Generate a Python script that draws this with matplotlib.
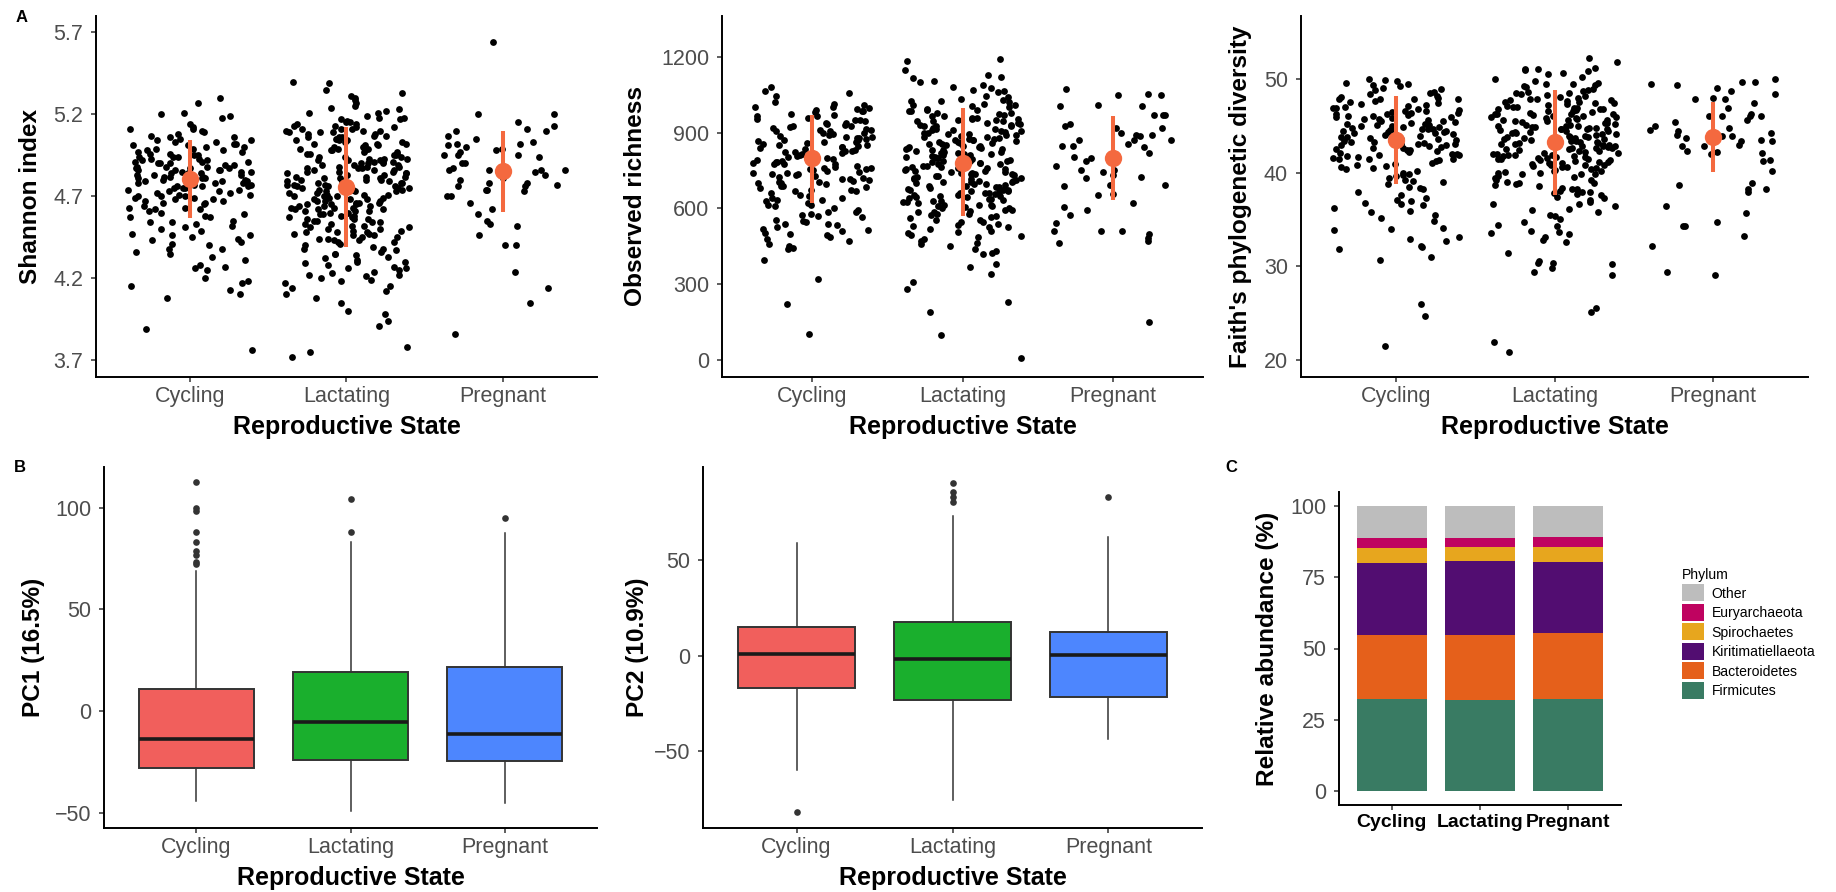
import numpy as np
import matplotlib
matplotlib.use("Agg")
import matplotlib.pyplot as plt
from matplotlib.patches import Patch

plt.rcParams['font.family'] = ['Liberation Sans', 'DejaVu Sans']

# ---------------- data ----------------
states = ["Cycling", "Lactating", "Pregnant"]

# Shannon index per sample
shannon_cyc = [5.30, 5.27, 5.21, 5.20, 5.19, 5.18, 5.14, 5.12, 5.11, 5.11, 5.10, 5.09, 5.08, 5.06, 5.06, 5.05,
               5.04, 5.04, 5.03, 5.02, 5.02, 5.01, 5.00, 5.00, 4.99, 4.98, 4.98, 4.97, 4.96, 4.96, 4.95, 4.94,
               4.94, 4.93, 4.92, 4.92, 4.91, 4.90, 4.90, 4.89, 4.89, 4.88, 4.88, 4.87, 4.87, 4.86, 4.86, 4.85,
               4.85, 4.85, 4.84, 4.84, 4.83, 4.83, 4.83, 4.82, 4.82, 4.81, 4.81, 4.80, 4.80, 4.80, 4.79, 4.79,
               4.78, 4.78, 4.77, 4.77, 4.76, 4.76, 4.75, 4.75, 4.74, 4.73, 4.73, 4.72, 4.72, 4.71, 4.70, 4.70,
               4.69, 4.68, 4.68, 4.67, 4.66, 4.65, 4.64, 4.63, 4.62, 4.61, 4.60, 4.59, 4.58, 4.57, 4.55, 4.54,
               4.52, 4.51, 4.50, 4.49, 4.47, 4.46, 4.44, 4.43, 4.42, 4.40, 4.38, 4.36, 4.33, 4.31, 4.28, 4.26,
               4.25, 4.20, 4.18, 4.17, 4.15, 4.13, 4.10, 4.08, 3.89, 3.76, 4.91, 4.86, 4.82, 4.79, 4.84, 4.88,
               4.93, 4.97, 5.03, 4.74, 4.71, 4.66, 4.63, 4.57, 4.53, 4.45, 4.41, 4.35, 4.87, 4.81, 4.76, 4.69,
               4.83, 4.95, 5.01, 4.90, 4.94, 4.86, 4.78, 4.70, 4.62, 4.54, 4.46, 4.38, 5.07, 4.99, 4.91, 4.83,
               4.75, 4.67, 4.27]
shannon_lac = [5.40, 5.39, 5.35, 5.33, 5.31, 5.30, 5.29, 5.27, 5.25, 5.24, 5.23, 5.22, 5.21, 5.21, 5.19, 5.18,
               5.17, 5.17, 5.16, 5.15, 5.15, 5.14, 5.13, 5.13, 5.12, 5.12, 5.11, 5.11, 5.10, 5.10, 5.10, 5.09,
               5.09, 5.08, 5.08, 5.07, 5.07, 5.06, 5.06, 5.05, 5.05, 5.04, 5.04, 5.03, 5.03, 5.02, 5.02, 5.01,
               5.01, 5.00, 5.00, 4.99, 4.99, 4.98, 4.98, 4.97, 4.97, 4.96, 4.96, 4.95, 4.95, 4.94, 4.94, 4.93,
               4.93, 4.92, 4.92, 4.91, 4.91, 4.90, 4.90, 4.90, 4.89, 4.89, 4.88, 4.88, 4.87, 4.87, 4.86, 4.86,
               4.85, 4.85, 4.84, 4.84, 4.83, 4.83, 4.82, 4.82, 4.81, 4.81, 4.80, 4.80, 4.80, 4.85, 4.87, 4.79,
               4.79, 4.78, 4.78, 4.77, 4.77, 4.76, 4.76, 4.75, 4.75, 4.74, 4.74, 4.73, 4.73, 4.72, 4.72, 4.71,
               4.71, 4.70, 4.70, 4.75, 4.77, 4.69, 4.69, 4.68, 4.68, 4.67, 4.67, 4.66, 4.66, 4.65, 4.65, 4.64,
               4.64, 4.63, 4.63, 4.62, 4.62, 4.61, 4.61, 4.60, 4.60, 4.65, 4.62, 4.59, 4.58, 4.58, 4.57, 4.56,
               4.56, 4.55, 4.54, 4.54, 4.53, 4.52, 4.52, 4.51, 4.50, 4.50, 4.49, 4.48, 4.48, 4.47, 4.46, 4.46,
               4.45, 4.44, 4.44, 4.43, 4.42, 4.42, 4.41, 4.40, 4.39, 4.38, 4.37, 4.36, 4.35, 4.34, 4.33, 4.32,
               4.31, 4.30, 4.29, 4.28, 4.27, 4.26, 4.25, 4.24, 4.23, 4.22, 4.21, 4.20, 4.19, 4.17, 4.15, 4.14,
               4.12, 4.10, 4.08, 4.05, 4.00, 3.98, 3.94, 3.91, 3.78, 3.75, 3.72, 4.96, 4.88, 4.79, 4.71, 4.63,
               4.55, 4.47, 5.06, 5.14, 4.93, 4.84, 4.76, 4.68, 4.59, 4.51, 4.43, 4.35, 5.02, 4.98, 4.91, 4.82,
               4.73, 4.66, 4.57, 4.49, 4.30, 4.22, 5.09, 5.18, 4.94, 4.86, 4.78, 4.70, 4.61, 4.53, 4.45, 4.38,
               5.04, 4.99, 4.89, 4.81, 4.74, 4.64, 4.56, 4.48, 4.26, 4.18, 5.11, 4.92, 4.67]
shannon_preg = [5.64, 5.20, 5.20, 5.15, 5.13, 5.11, 5.10, 5.10, 5.07, 5.05, 5.03, 5.02, 5.02, 5.01, 5.00, 4.99,
                4.98, 4.97, 4.95, 4.95, 4.95, 4.94, 4.90, 4.90, 4.87, 4.86, 4.86, 4.86, 4.86, 4.85, 4.83, 4.81,
                4.80, 4.78, 4.78, 4.77, 4.76, 4.76, 4.74, 4.74, 4.73, 4.70, 4.70, 4.66, 4.62, 4.59, 4.55, 4.53,
                4.52, 4.46, 4.40, 4.40, 4.24, 4.14, 4.05, 3.86]

# Observed richness per sample
richness_cyc = [1080, 1065, 1058, 1045, 1020, 1012, 1008, 1003, 998, 993, 990, 985, 982, 975, 970, 966, 960, 955,
                950, 945, 940, 938, 935, 930, 926, 922, 918, 915, 910, 905, 900, 898, 894, 890, 886, 882, 878, 875,
                870, 866, 862, 858, 855, 850, 846, 842, 838, 835, 830, 826, 822, 818, 815, 810, 806, 802, 800, 797,
                793, 790, 786, 782, 778, 775, 770, 766, 762, 758, 755, 750, 746, 742, 738, 735, 730, 726, 722, 718,
                714, 710, 705, 700, 696, 690, 685, 680, 675, 668, 662, 655, 648, 640, 634, 628, 620, 615, 608, 600,
                595, 588, 580, 572, 565, 556, 548, 540, 535, 528, 520, 510, 502, 496, 488, 480, 470, 460, 452, 445,
                440, 395, 320, 220, 105, 925, 880, 845, 808, 776, 742, 705, 668, 632, 965, 905, 862, 828, 785, 752,
                718, 690, 612, 575, 540, 500, 1000, 870, 985, 952, 912, 884, 852, 822, 792, 762, 732, 702, 672, 642,
                585, 552, 515]
richness_lac = [1190, 1185, 1150, 1120, 1115, 1105, 1100, 1090, 1080, 1078, 1065, 1045, 1040, 1035, 1030, 1025,
                1020, 1015, 1010, 1005, 1000, 995, 990, 988, 985, 980, 975, 972, 968, 965, 960, 955, 952, 948, 945,
                940, 936, 932, 928, 925, 920, 916, 912, 908, 905, 900, 896, 892, 888, 885, 880, 876, 872, 868, 865,
                860, 856, 852, 848, 845, 840, 836, 832, 828, 825, 820, 816, 812, 808, 805, 800, 796, 792, 788, 785,
                780, 776, 772, 768, 765, 760, 756, 752, 748, 745, 740, 736, 732, 728, 725, 720, 716, 712, 708, 705,
                700, 696, 692, 688, 685, 680, 676, 672, 668, 665, 660, 656, 652, 648, 645, 640, 636, 632, 628, 625,
                620, 615, 610, 605, 600, 595, 590, 585, 580, 575, 570, 562, 555, 548, 540, 532, 525, 518, 510, 502,
                495, 488, 480, 472, 462, 450, 440, 430, 425, 420, 380, 370, 340, 310, 280, 230, 190, 100, 10, 960,
                930, 900, 870, 840, 810, 780, 750, 720, 690, 660, 630, 980, 940, 890, 860, 830, 790, 770, 735, 710,
                675, 650, 615, 1060, 1010, 950, 910, 875, 842, 815, 798, 762, 742, 703, 662, 600, 955, 925, 895,
                865, 835, 805, 775, 745, 715, 685, 655, 625, 595, 565, 535, 505, 985, 915, 885, 855, 825, 795, 765,
                735, 705, 675, 645, 615, 585, 555, 525, 1025, 945, 902, 872, 846, 818, 788, 758, 728, 698, 668, 638,
                608, 578, 548, 490, 460, 1070, 1130]
richness_preg = [1075, 1051, 1048, 1055, 1011, 1005, 1005, 972, 969, 936, 969, 926, 917, 917, 899, 890, 890, 886,
                 870, 870, 870, 848, 848, 857, 844, 818, 804, 800, 787, 769, 754, 754, 745, 732, 725, 719, 692, 690,
                 695, 655, 657, 622, 607, 596, 574, 541, 512, 510, 510, 501, 485, 472, 462, 152]

# Faith's phylogenetic diversity per sample
faith_cyc = [50.0, 49.9, 49.8, 49.6, 49.5, 49.3, 49.2, 49.0, 48.8, 48.5, 48.4, 48.2, 48.0, 47.9, 47.8, 47.6, 47.5,
             47.3, 47.2, 47.0, 46.9, 46.8, 46.6, 46.5, 46.4, 46.3, 46.1, 46.0, 45.9, 45.8, 45.7, 45.6, 45.5, 45.4,
             45.3, 45.2, 45.1, 45.0, 44.9, 44.8, 44.7, 44.6, 44.5, 44.4, 44.3, 44.2, 44.1, 44.0, 43.9, 43.8, 43.7,
             43.6, 43.5, 43.4, 43.3, 43.2, 43.1, 43.0, 42.9, 42.8, 42.7, 42.6, 42.5, 42.4, 42.3, 42.2, 42.1, 42.0,
             41.9, 41.8, 41.6, 41.5, 41.3, 41.2, 41.0, 40.9, 40.7, 40.5, 40.4, 40.2, 40.0, 39.8, 39.6, 39.4, 39.2,
             39.0, 38.8, 38.5, 38.2, 37.9, 37.6, 37.3, 37.0, 36.8, 36.5, 36.2, 35.9, 35.5, 35.2, 34.8, 34.1, 33.9,
             33.1, 32.9, 32.7, 32.2, 32.1, 31.8, 31.0, 30.7, 26.0, 24.7, 21.5, 47.4, 46.7, 46.2, 45.7, 45.2, 44.6,
             44.0, 43.6, 43.2, 42.6, 42.0, 41.4, 40.8, 47.9, 46.4, 45.5, 44.3, 43.0, 41.7, 48.1, 47.1, 45.9, 44.9,
             43.8, 42.9, 46.6, 45.0, 48.6, 44.4, 41.9, 39.1, 36.7, 34.0, 47.8, 46.9, 46.0, 45.1, 44.2, 43.3, 42.4,
             41.5, 40.6, 39.7, 38.4, 37.1, 35.8, 48.9, 44.7]
faith_lac = [52.2, 51.8, 51.2, 51.0, 50.9, 50.8, 50.5, 50.2, 50.0, 49.8, 49.6, 49.5, 49.3, 49.1, 48.9, 48.8, 48.7,
             48.5, 48.3, 48.2, 48.0, 47.9, 47.8, 47.6, 47.5, 47.4, 47.2, 47.1, 47.0, 46.9, 46.8, 46.7, 46.5, 46.4,
             46.3, 46.2, 46.0, 45.9, 45.8, 45.7, 45.6, 45.5, 45.4, 45.3, 45.2, 45.1, 45.0, 44.9, 44.8, 44.7, 44.6,
             44.5, 44.4, 44.3, 44.2, 44.1, 44.0, 43.9, 43.8, 43.7, 43.6, 43.5, 43.4, 43.3, 43.2, 43.1, 43.0, 42.9,
             42.8, 42.7, 42.6, 42.5, 42.4, 42.3, 42.2, 42.1, 42.0, 41.9, 41.8, 41.7, 41.6, 41.5, 41.4, 41.3, 41.2,
             41.1, 41.0, 40.9, 40.8, 40.7, 40.6, 40.5, 40.4, 40.3, 40.2, 40.1, 40.0, 39.8, 39.6, 39.4, 39.2, 39.0,
             38.8, 38.6, 38.4, 38.2, 38.0, 37.8, 37.6, 37.4, 37.1, 36.9, 36.6, 36.4, 36.1, 35.8, 35.5, 35.1, 34.7,
             34.3, 33.8, 33.6, 33.5, 33.1, 32.8, 32.6, 31.4, 30.6, 30.4, 30.3, 29.8, 29.4, 29.1, 25.6, 25.1, 21.9,
             20.9, 48.4, 47.7, 47.3, 46.6, 46.1, 45.6, 45.1, 44.6, 44.1, 43.6, 43.1, 42.6, 42.1, 41.6, 41.1, 40.6,
             48.6, 47.5, 46.8, 46.3, 45.8, 45.3, 44.8, 44.3, 43.8, 43.3, 42.8, 42.3, 41.8, 41.3, 40.8, 49.4, 46.9,
             45.9, 44.9, 43.9, 42.9, 41.9, 39.9, 38.9, 37.9, 47.4, 46.8, 46.2, 45.6, 45.0, 44.4, 43.8, 43.2, 42.6,
             42.0, 41.4, 40.8, 40.2, 39.5, 38.7, 37.9, 48.1, 47.0, 46.0, 45.0, 44.2, 43.4, 42.5, 41.7, 40.9, 39.9,
             38.9, 37.7, 36.6, 35.4, 34.4, 49.2, 48.5, 47.7, 46.6, 45.5, 44.6, 43.7, 42.8, 41.9, 41.0, 40.0, 39.2,
             38.3, 37.3, 36.0, 50.6, 51.0, 33.7, 30.4]
faith_preg = [49.5, 49.3, 49.7, 49.7, 50.0, 49.0, 48.7, 48.4, 47.9, 48.0, 47.8, 47.4, 46.9, 46.3, 46.0, 46.0, 46.0,
              45.6, 46.0, 45.4, 44.8, 44.5, 45.0, 44.4, 44.2, 44.0, 43.9, 43.7, 43.9, 43.7, 43.5, 43.4, 43.4, 42.9,
              42.8, 42.8, 42.1, 42.2, 42.3, 42.0, 41.3, 41.2, 40.2, 38.9, 38.2, 38.3, 38.7, 37.9, 36.4, 35.7, 34.3,
              34.7, 34.3, 33.2, 32.2, 29.4, 29.1]

# mean +/- sd summaries (orange point ranges)
shannon_mean = [4.807, 4.756, 4.851]
shannon_lo = [4.569, 4.390, 4.604]
shannon_hi = [5.044, 5.121, 5.095]
richness_mean = [798, 782, 800]
richness_lo = [622, 570, 633]
richness_hi = [969, 996, 967]
faith_mean = [43.5, 43.3, 43.8]
faith_lo = [38.75, 37.6, 40.1]
faith_hi = [48.2, 48.8, 47.5]

# PCA box plot summaries
pc1_q1 = [-27.9, -23.8, -24.3]
pc1_med = [-13.9, -5.4, -11.3]
pc1_q3 = [11.1, 19.3, 21.8]
pc1_lo = [-44.3, -48.9, -45.1]
pc1_hi = [68.9, 83.3, 87.7]
pc1_out = [[112.6, 100.0, 98.4, 88.0, 83.3, 78.7, 77.0, 73.4, 72.5], [104.1, 88.0], [94.8]]

pc2_q1 = [-17.1, -23.2, -21.5]
pc2_med = [0.9, -1.7, 0.2]
pc2_q3 = [14.8, 17.5, 12.2]
pc2_lo = [-59.9, -75.4, -43.6]
pc2_hi = [59.0, 72.8, 62.3]
pc2_out = [[-81.7], [90.2, 85.5, 82.9, 80.3], [83.2]]

# relative abundance (%) by phylum, stacked bottom-up
phyla = ["Firmicutes", "Bacteroidetes", "Kiritimatiellaeota", "Spirochaetes", "Euryarchaeota", "Other"]
firmicutes = [32.2, 31.8, 32.2]
bacteroidetes = [22.7, 23.1, 23.4]
kiritimatiellaeota = [25.1, 25.8, 24.75]
spirochaetes = [5.4, 4.9, 5.35]
euryarchaeota = [3.3, 3.1, 3.3]
other = [11.3, 11.3, 11.0]

# ---------------- styling ----------------
W, H = 1836, 892
orange = '#F4693F'
box_cols = ['#F15F5C', '#1AAF2D', '#4D86FE']
phylum_cols = ['#397B63', '#E5601B', '#520D71', '#E7A61E', '#BF0360', '#BDBDBD']
TICK = 15.5
XLAB = 18
YLAB = 17.6

fig = plt.figure(figsize=(W / 100, H / 100), dpi=100)


def add_ax(l, r, t, b):
    return fig.add_axes([l / W, 1 - b / H, (r - l) / W, (b - t) / H])


def style(ax):
    for s in ['top', 'right']:
        ax.spines[s].set_visible(False)
    for s in ['left', 'bottom']:
        ax.spines[s].set_linewidth(1.4)
        ax.spines[s].set_color('black')
    ax.tick_params(length=3.8, width=1.1, color='#333333', labelcolor='#4D4D4D', labelsize=TICK)
    ax.tick_params(axis='x', pad=2.5)
    ax.tick_params(axis='y', pad=5.5)


def jitter(n, seed):
    # deterministic horizontal spread for the dots (+/- 0.4 of a category)
    k = np.arange(n) + 1.0
    u = np.sin(k * 12.9898 + seed * 78.233) * 43758.5453
    return (u - np.floor(u)) * 0.8 - 0.4


def labels(ax, ylab, ylab_x):
    ax.set_xlabel("Reproductive State", fontsize=XLAB, fontweight='bold', va='center')
    ax.xaxis.set_label_coords(0.5, -0.1385)
    ax.set_ylabel(ylab, fontsize=YLAB, fontweight='bold', va='center')
    ax.yaxis.set_label_coords(ylab_x, 0.5)


def dot_panel(ax, groups, mean, lo, hi, ylim, yticks, ylab, ylab_x, seed):
    style(ax)
    for i, vals in enumerate(groups):
        x = (i + 1) + jitter(len(vals), seed + i)
        ax.scatter(x, vals, s=24, color='black', linewidths=0, zorder=2)
    pos = np.arange(1, len(states) + 1)
    ax.vlines(pos, lo, hi, color=orange, linewidth=2.9, zorder=3)
    ax.plot(pos, mean, 'o', color=orange, markersize=12.5, markeredgewidth=0, zorder=4)
    ax.set_xlim(0.4, 3.6)
    ax.set_ylim(*ylim)
    ax.set_xticks(pos)
    ax.set_xticklabels(states)
    ax.set_yticks(yticks)
    labels(ax, ylab, ylab_x)


def box_panel(ax, q1, med, q3, lo, hi, out, ylim, yticks, ylab, ylab_x):
    style(ax)
    stats = []
    for i in range(len(states)):
        stats.append(dict(med=med[i], q1=q1[i], q3=q3[i], whislo=lo[i], whishi=hi[i], fliers=out[i]))
    pos = np.arange(1, len(states) + 1)
    bp = ax.bxp(stats, positions=pos, widths=0.75, showcaps=False, patch_artist=True,
                boxprops=dict(linewidth=1.4, edgecolor='#333333'),
                medianprops=dict(linewidth=2.6, color='#1A1A1A', solid_capstyle='butt'),
                whiskerprops=dict(linewidth=1.1, color='#333333'),
                flierprops=dict(marker='o', markersize=4.8, markerfacecolor='#333333',
                                markeredgecolor='none'))
    for patch, c in zip(bp['boxes'], box_cols):
        patch.set_facecolor(c)
    ax.set_xlim(0.4, 3.6)
    ax.set_ylim(*ylim)
    ax.set_xticks(pos)
    ax.set_xticklabels(states)
    ax.set_yticks(yticks)
    labels(ax, ylab, ylab_x)


# ---------------- row A ----------------
ax1 = add_ax(96, 597, 16, 377)
dot_panel(ax1, [shannon_cyc, shannon_lac, shannon_preg], shannon_mean, shannon_lo, shannon_hi,
          (3.596, 5.80), [3.7, 4.2, 4.7, 5.2, 5.7], "Shannon index", -0.130, 1)
ax1.set_yticklabels(["3.7", "4.2", "4.7", "5.2", "5.7"])

ax2 = add_ax(722, 1203, 16, 377)
dot_panel(ax2, [richness_cyc, richness_lac, richness_preg], richness_mean, richness_lo, richness_hi,
          (-67, 1362), [0, 300, 600, 900, 1200], "Observed richness", -0.180, 5)

ax3 = add_ax(1301, 1808, 16, 377)
dot_panel(ax3, [faith_cyc, faith_lac, faith_preg], faith_mean, faith_lo, faith_hi,
          (18.2, 56.7), [20, 30, 40, 50], "Faith's phylogenetic diversity", -0.119, 9)

# ---------------- row B ----------------
ax4 = add_ax(104, 597, 467, 828)
box_panel(ax4, pc1_q1, pc1_med, pc1_q3, pc1_lo, pc1_hi, pc1_out, (-57.4, 120), [-50, 0, 50, 100],
          "PC1 (16.5%)", -0.144)

ax5 = add_ax(703, 1202, 467, 828)
box_panel(ax5, pc2_q1, pc2_med, pc2_q3, pc2_lo, pc2_hi, pc2_out, (-90.3, 98.7), [-50, 0, 50],
          "PC2 (10.9%)", -0.131)

# ---------------- panel C ----------------
ax6 = add_ax(1339, 1621, 492, 805)
style(ax6)
pos = np.arange(1, len(states) + 1)
bottom = np.zeros(len(states))
handles = []
for name, vals, c in zip(phyla, [firmicutes, bacteroidetes, kiritimatiellaeota, spirochaetes, euryarchaeota, other],
                         phylum_cols):
    ax6.bar(pos, vals, width=0.8, bottom=bottom, color=c, linewidth=0)
    bottom = bottom + np.array(vals)
    handles.append(Patch(facecolor=c, edgecolor='none', label=name))
ax6.set_xlim(0.4, 3.6)
ax6.set_ylim(-4.9, 104.9)
ax6.set_xticks(pos)
ax6.set_xticklabels(states, fontweight='bold', color='black', fontsize=14)
ax6.set_yticks([0, 25, 50, 75, 100])
ax6.set_ylabel("Relative abundance (%)", fontsize=YLAB, fontweight='bold', va='center')
ax6.yaxis.set_label_coords(-0.255, 0.5)

leg = fig.legend(handles[::-1], [h.get_label() for h in handles[::-1]], title="Phylum",
                 loc='upper left', bbox_to_anchor=(1682 / W, 1 - 568 / H), frameon=False,
                 fontsize=10.1, title_fontsize=10.1, handlelength=1.55, handleheight=1.5,
                 labelspacing=0.17, handletextpad=0.55, borderpad=0, borderaxespad=0,
                 alignment='left')

# ---------------- panel tags ----------------
fig.text(22 / W, 1 - 17 / H, "A", fontsize=12, fontweight='bold', ha='center', va='center')
fig.text(20 / W, 1 - 468 / H, "B", fontsize=12, fontweight='bold', ha='center', va='center')
fig.text(1231 / W, 1 - 468 / H, "C", fontsize=12, fontweight='bold', ha='center', va='center')

fig.savefig("out.png", dpi=100)
